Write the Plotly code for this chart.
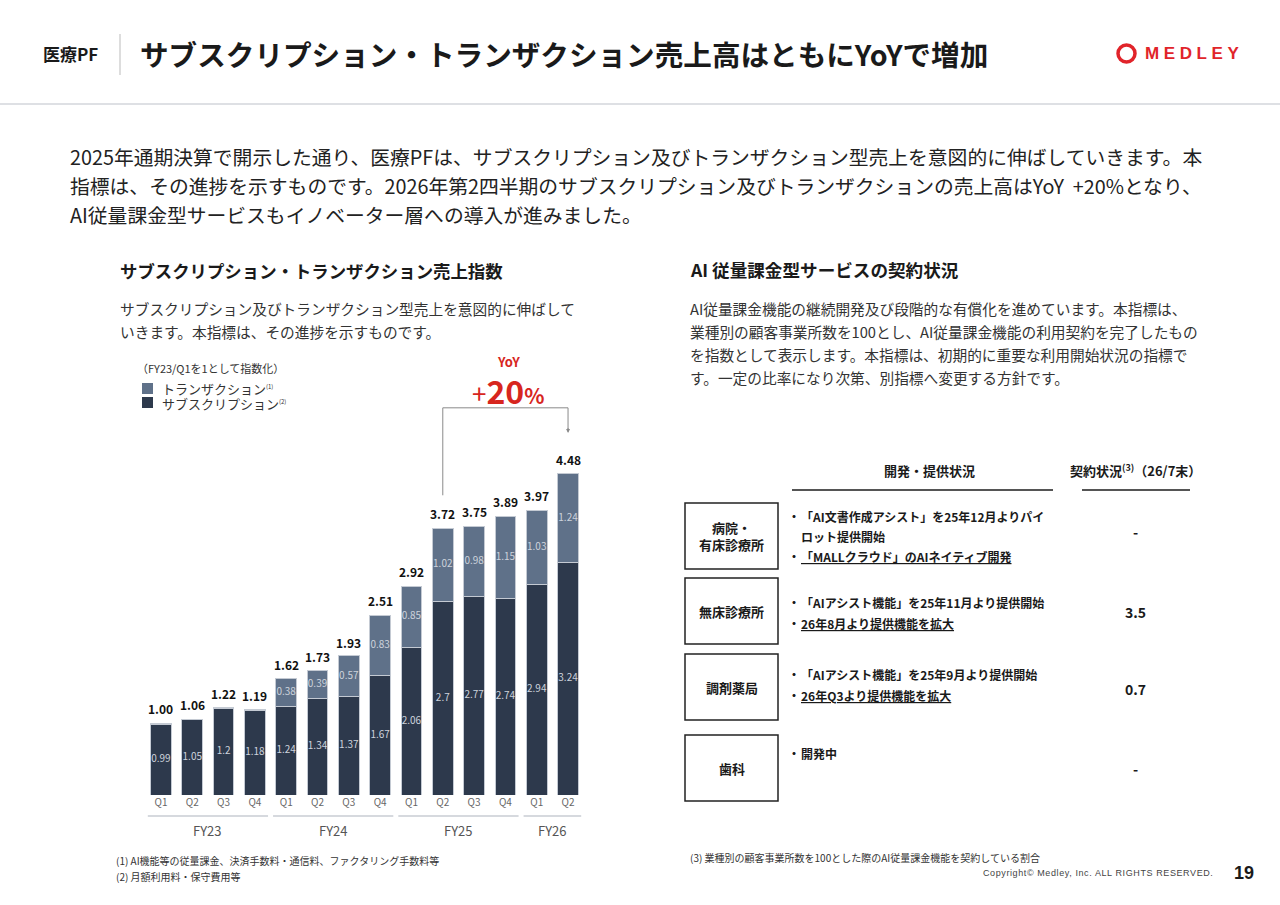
import plotly.graph_objects as go

W, H = 1280, 905
FONT = "Noto Sans CJK JP"
INK = "#1a1a1a"
DARK = "#2d394c"
SLATE = "#5f7189"
RED = "#d7261e"

# ---- data -------------------------------------------------------------
quarters = ["Q1", "Q2", "Q3", "Q4", "Q1", "Q2", "Q3", "Q4",
            "Q1", "Q2", "Q3", "Q4", "Q1", "Q2"]
fiscal_years = ["FY23", "FY24", "FY25", "FY26"]
quarters_per_year = [4, 4, 4, 2]
subscription = [0.99, 1.05, 1.2, 1.18, 1.24, 1.34, 1.37, 1.67,
                2.06, 2.7, 2.77, 2.74, 2.94, 3.24]
transaction = [0.01, 0.01, 0.02, 0.01, 0.38, 0.39, 0.57, 0.83,
               0.85, 1.02, 0.98, 1.15, 1.03, 1.24]
totals = [1.00, 1.06, 1.22, 1.19, 1.62, 1.73, 1.93, 2.51,
          2.92, 3.72, 3.75, 3.89, 3.97, 4.48]
yoy_from, yoy_to = 9, 13
yoy_text = "20"

segments = ["病院・<br>有床診療所", "無床診療所", "調剤薬局", "歯科"]
status_lines = [
    [("・", "「AI文書作成アシスト」を25年12月よりパイ"),
     ("", "ロット提供開始"),
     ("・", "<u>「MALLクラウド」のAIネイティブ開発</u>")],
    [("・", "「AIアシスト機能」を25年11月より提供開始"),
     ("・", "<u>26年8月より提供機能を拡大</u>")],
    [("・", "「AIアシスト機能」を25年9月より提供開始"),
     ("・", "<u>26年Q3より提供機能を拡大</u>")],
    [("・", "開発中")],
]
contract_values = ["-", "3.5", "0.7", "-"]

# ---- helpers ----------------------------------------------------------
def px(x):
    return x / W


def py(y):
    return 1 - y / H


fig = go.Figure()


def txt(x, y, s, size=12, color=INK, bold=False, xanchor="left", family=FONT):
    fig.add_annotation(x=px(x), y=py(y), xref="paper", yref="paper", text=s,
                       showarrow=False, xanchor=xanchor, yanchor="middle",
                       align=xanchor if xanchor != "center" else "center",
                       font=dict(size=size, color=color, family=family,
                                 weight="bold" if bold else "normal"))


def hline(x0, x1, y, color, width=1):
    fig.add_shape(type="line", xref="paper", yref="paper", x0=px(x0), x1=px(x1),
                  y0=py(y), y1=py(y), line=dict(color=color, width=width))


# ---- bar chart --------------------------------------------------------
idx = list(range(len(quarters)))
edge = dict(color="#c4cad3", width=1)
fig.add_trace(go.Bar(x=idx, y=subscription, width=0.66, name="サブスクリプション",
                     marker=dict(color=DARK, line=edge)))
fig.add_trace(go.Bar(x=idx, y=transaction, width=0.66, name="トランザクション",
                     marker=dict(color=SLATE, line=edge)))

fig.add_trace(go.Scatter(x=idx, y=[s / 2 for s in subscription], mode="text",
                         text=[f"{v:g}" for v in subscription],
                         textfont=dict(size=10, color="#cdd3dc", family=FONT)))
lab_x = [i for i, t in zip(idx, transaction) if t >= 0.1]
fig.add_trace(go.Scatter(x=lab_x,
                         y=[subscription[i] + transaction[i] / 2 for i in lab_x],
                         mode="text", text=[f"{transaction[i]:g}" for i in lab_x],
                         textfont=dict(size=10, color="#cdd3dc", family=FONT)))
for i, v in zip(idx, totals):
    fig.add_annotation(x=i, y=v, xref="x", yref="y", text=f"{v:.2f}", showarrow=False,
                       yanchor="bottom", yshift=4,
                       font=dict(size=12, color="#111", family=FONT, weight="bold"))

# fiscal year brackets
start = 0
for fy, n in zip(fiscal_years, quarters_per_year):
    end = start + n - 1
    fig.add_shape(type="line", xref="x", yref="paper", x0=start - 0.42, x1=end + 0.42,
                  y0=py(816), y1=py(816), line=dict(color="#d6d9de", width=2))
    fig.add_annotation(x=(start + end) / 2, y=py(830), xref="x", yref="paper", text=fy,
                       showarrow=False, yanchor="middle",
                       font=dict(size=13, color="#555", family=FONT))
    start += n

# YoY bracket
top = max(totals) + 0.92
fig.add_shape(type="path", xref="x", yref="y",
              path=f"M {yoy_from},{totals[yoy_from] + 0.46} L {yoy_from},{top} "
                   f"L {yoy_to},{top} L {yoy_to},{totals[yoy_to] + 0.62}",
              line=dict(color="#8a8a8a", width=1))
fig.add_annotation(x=yoy_to, y=totals[yoy_to] + 0.57, ax=yoy_to, ay=totals[yoy_to] + 0.66,
                   xref="x", yref="y", axref="x", ayref="y", text="", showarrow=True,
                   arrowhead=2, arrowsize=0.8, arrowwidth=1, arrowcolor="#8a8a8a")
txt(508, 361, "YoY", size=13, color=RED, bold=True, xanchor="center")
txt(508, 390, "<span style='font-size:26px;font-weight:normal'>+</span><b>" + yoy_text +
    "</b><span style='font-size:21px'><b>%</b></span>",
    size=32, color=RED, xanchor="center")

# legend
fig.add_shape(type="rect", xref="paper", yref="paper", x0=px(142), x1=px(153),
              y0=py(383), y1=py(394), fillcolor=SLATE, line=dict(width=0))
fig.add_shape(type="rect", xref="paper", yref="paper", x0=px(142), x1=px(153),
              y0=py(397), y1=py(408), fillcolor=DARK, line=dict(width=0))
txt(135, 368, "（FY23/Q1を1として指数化）", size=11, color="#333")
txt(160, 388, "トランザクション<sup><span style='font-size:6px'>(1)</span></sup>",
    size=13, color="#333")
txt(160, 403, "サブスクリプション<sup><span style='font-size:6px'>(2)</span></sup>",
    size=13, color="#333")

# ---- header -----------------------------------------------------------
txt(41, 53, "医療PF", size=17, bold=True)
fig.add_shape(type="line", xref="paper", yref="paper", x0=px(120), x1=px(120),
              y0=py(34), y1=py(75), line=dict(color="#bbbbbb", width=1))
txt(138, 53, "サブスクリプション・トランザクション売上高はともにYoYで増加", size=28.6, bold=True)
hline(0, W, 104, "#d3d6db", 1.5)
fig.add_shape(type="circle", xref="paper", yref="paper", x0=px(1118), x1=px(1135),
              y0=py(45), y1=py(62), line=dict(color="#e1242a", width=3.5))
txt(1143, 53, "<span style='letter-spacing:4.6px'>MEDLEY</span>", size=17,
    color="#e1242a", bold=True, family="Liberation Sans")

body = ["2025年通期決算で開示した通り、医療PFは、サブスクリプション及びトランザクション型売上を意図的に伸ばしていきます。本",
        "指標は、その進捗を示すものです。2026年第2四半期のサブスクリプション及びトランザクションの売上高はYoY  +20%となり、",
        "AI従量課金型サービスもイノベーター層への導入が進みました。"]
for i, line in enumerate(body):
    txt(68, 157 + i * 28.5, line, size=19.8, color="#222")

# ---- section headings -------------------------------------------------
txt(118, 271, "サブスクリプション・トランザクション売上指数", size=17.4, bold=True)
txt(118, 308, "サブスクリプション及びトランザクション型売上を意図的に伸ばして", size=14.7, color="#333")
txt(118, 331, "いきます。本指標は、その進捗を示すものです。", size=14.7, color="#333")

txt(688, 269, "AI 従量課金型サービスの契約状況", size=17.6, bold=True)
right_desc = ["AI従量課金機能の継続開発及び段階的な有償化を進めています。本指標は、",
              "業種別の顧客事業所数を100とし、AI従量課金機能の利用契約を完了したもの",
              "を指数として表示します。本指標は、初期的に重要な利用開始状況の指標で",
              "す。一定の比率になり次第、別指標へ変更する方針です。"]
for i, line in enumerate(right_desc):
    txt(688, 308 + i * 23, line, size=14.7, color="#333")

# ---- table ------------------------------------------------------------
txt(929, 470, "開発・提供状況", size=13, bold=True, xanchor="center")
txt(1135, 470, "契約状況<sup>(3)</sup>（26/7末）", size=13, bold=True, xanchor="center")
hline(792, 1053, 490, "#555", 2)
hline(1082, 1190, 490, "#555", 2)

row_tops = [503, 578, 654, 735]
row_h = 66
line_ys = [[516, 536, 556], [602, 623], [674, 695], [753]]
value_ys = [532, 612, 689, 769]
for seg, top_y, lines, ys, val, vy in zip(segments, row_tops, status_lines, line_ys,
                                          contract_values, value_ys):
    fig.add_shape(type="rect", xref="paper", yref="paper", x0=px(685), x1=px(778),
                  y0=py(top_y), y1=py(top_y + row_h), line=dict(color="#222", width=1.5))
    txt(731.5, top_y + row_h / 2, seg, size=13, bold=True, xanchor="center")
    for (bullet, s), y in zip(lines, ys):
        if bullet:
            txt(786, y, bullet, size=12, bold=True)
        txt(799, y, s, size=12, bold=True)
    txt(1135, vy, val, size=14, bold=True, xanchor="center")

# ---- footnotes --------------------------------------------------------
txt(114, 860, "(1) AI機能等の従量課金、決済手数料・通信料、ファクタリング手数料等", size=10, color="#333")
txt(114, 876, "(2) 月額利用料・保守費用等", size=10, color="#333")
txt(688, 857, "(3) 業種別の顧客事業所数を100とした際のAI従量課金機能を契約している割合", size=10, color="#333")
txt(1215, 873, "<span style='letter-spacing:0.6px'>Copyright© Medley, Inc. ALL RIGHTS RESERVED.</span>",
    size=9, color="#444", xanchor="right", family="Liberation Sans")
txt(1244, 873, "19", size=18, bold=True, xanchor="center", family="Liberation Sans")

# ---- layout -----------------------------------------------------------
y_top = 6.0
unit_px = 71.7
fig.update_layout(
    width=W, height=H,
    margin=dict(l=0, r=0, t=0, b=0),
    paper_bgcolor="white", plot_bgcolor="white",
    barmode="stack", showlegend=False,
    font=dict(family=FONT, color=INK),
    xaxis=dict(domain=[px(145.3), px(583.7)], range=[-0.5, len(quarters) - 0.5],
               tickvals=idx, ticktext=quarters, tickfont=dict(size=10, color="#666"),
               showgrid=False, zeroline=False, showline=False, ticks="", fixedrange=True),
    yaxis=dict(domain=[py(795), py(795 - y_top * unit_px)], range=[0, y_top],
               visible=False, fixedrange=True),
)

# page has a default 8px body margin; drop it so the slide sits at 0,0
fig.write_html("out.html", config={"displayModeBar": False},
               post_script="document.body.style.margin='0';")
